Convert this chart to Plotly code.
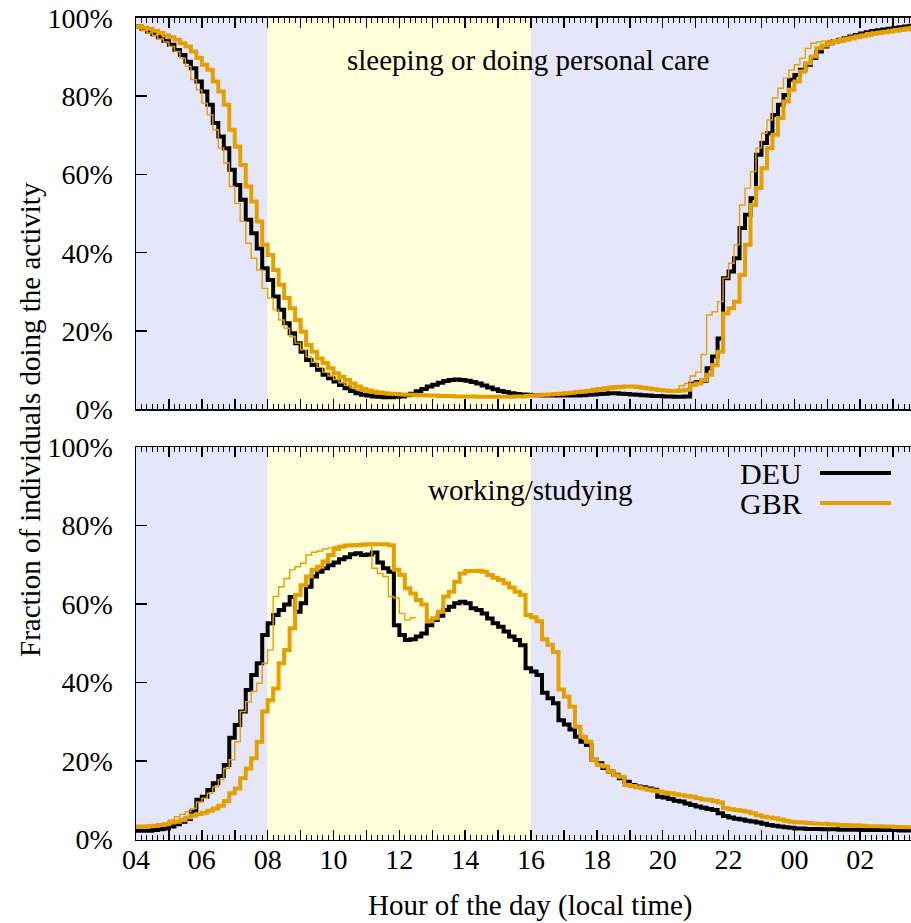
import numpy as np
import plotly.graph_objects as go

# ---------------- data (10-minute resolution, starting 04:00) ----------------
sleep_deu = [
    97.8, 97.2, 96.5, 95.8, 95.0, 94.1,
    93.1, 91.8, 90.5, 88.8, 87.1, 83.7,
    81.2, 77.8, 73.1, 69.7, 66.7, 61.2,
    57.3, 53.5, 48.4, 45.0, 41.1, 36.0,
    33.0, 28.8, 25.4, 22.0, 19.4, 16.9,
    14.7, 12.6, 11.3, 10.1, 8.8, 7.9,
    7.1, 6.2, 5.4, 4.7, 4.1, 3.7,
    3.5, 3.3, 3.2, 3.1, 3.1, 3.2,
    3.3, 3.6, 4.0, 4.6, 5.2, 5.8,
    6.3, 6.8, 7.2, 7.5, 7.6, 7.5,
    7.3, 7.0, 6.6, 6.1, 5.6, 5.1,
    4.7, 4.4, 4.1, 3.9, 3.8, 3.7,
    3.6, 3.6, 3.5, 3.5, 3.5, 3.5,
    3.5, 3.5, 3.5, 3.6, 3.7, 3.8,
    3.9, 4.0, 4.1, 4.1, 4.0, 3.9,
    3.8, 3.7, 3.6, 3.5, 3.4, 3.4,
    3.3, 3.3, 3.2, 3.2, 3.3, 6.5,
    7.0, 7.3, 10.5, 13.5, 18.1, 33.5,
    35.2, 38.6, 46.3, 49.7, 53.9, 65.0,
    68.0, 70.5, 75.2, 77.8, 80.3, 84.2,
    85.4, 86.7, 88.0, 89.7, 91.4, 92.7,
    93.5, 94.0, 94.4, 94.8, 95.2, 95.6,
    96.0, 96.3, 96.6, 96.8, 97.0, 97.2,
    97.4, 97.6, 97.8, 98.0, 98.2, 98.4,
]
sleep_gbr = [
    97.8, 97.5, 97.2, 96.7, 96.1, 95.5,
    95.0, 94.4, 93.5, 92.7, 91.4, 89.7,
    88.0, 86.7, 83.7, 81.2, 77.8, 71.4,
    67.1, 62.4, 56.9, 53.1, 48.0, 42.0,
    39.4, 35.6, 31.8, 28.4, 25.8, 22.8,
    19.8, 16.4, 14.7, 13.0, 11.8, 10.5,
    9.2, 8.3, 7.5, 6.6, 5.8, 5.2,
    4.8, 4.5, 4.3, 4.1, 4.0, 3.9,
    3.8, 3.7, 3.7, 3.6, 3.6, 3.5,
    3.5, 3.4, 3.4, 3.4, 3.3, 3.3,
    3.3, 3.3, 3.2, 3.2, 3.2, 3.2,
    3.2, 3.2, 3.2, 3.3, 3.3, 3.4,
    3.5, 3.6, 3.7, 3.8, 3.9, 4.0,
    4.1, 4.2, 4.4, 4.5, 4.7, 4.8,
    5.0, 5.2, 5.4, 5.6, 5.7, 5.8,
    5.8, 5.7, 5.5, 5.3, 5.1, 4.9,
    4.8, 4.7, 4.7, 4.8, 5.0, 6.2,
    6.6, 7.5, 8.8, 11.3, 14.7, 24.5,
    25.8, 27.5, 34.3, 42.0, 52.2, 56.5,
    61.6, 66.7, 70.1, 74.4, 78.6, 81.6,
    83.7, 86.3, 88.4, 90.1, 92.2, 92.9,
    93.5, 93.8, 94.1, 94.4, 94.7, 95.0,
    95.3, 95.6, 95.9, 96.1, 96.3, 96.5,
    96.7, 96.9, 97.1, 97.3, 97.5, 97.7,
]
sleep_gbr_thin = [
    97.4, 96.7, 96.1, 95.5, 94.6, 93.8,
    92.7, 91.4, 89.7, 87.6, 84.2, 81.6,
    78.2, 75.2, 71.4, 66.7, 62.9, 56.9,
    52.6, 48.0, 42.4, 38.6, 35.6, 30.9,
    28.4, 25.4, 22.8, 20.7, 18.6, 16.9,
    15.2, 13.4, 12.0, 10.7, 9.5, 8.5,
    7.6, 6.8, 6.1, 5.5, 5.0, 4.6,
    4.3, 4.1, 4.0, 3.9, 3.8, 3.7,
    3.7, 3.6, 3.6, 3.5, 3.5, 3.4,
    3.4, 3.4, 3.3, 3.3, 3.3, 3.3,
    3.3, 3.2, 3.2, 3.2, 3.2, 3.2,
    3.2, 3.2, 3.3, 3.3, 3.4, 3.5,
    3.6, 3.7, 3.8, 3.9, 4.0, 4.1,
    4.3, 4.5, 4.7, 4.9, 5.1, 5.3,
    5.5, 5.7, 5.9, 6.0, 6.1, 6.0,
    5.9, 5.7, 5.5, 5.3, 5.2, 5.1,
    5.0, 5.0, 5.1, 6.0, 6.6, 8.5,
    9.5, 14.0, 24.1, 24.9, 27.5, 33.5,
    37.3, 42.0, 52.2, 56.5, 60.7, 66.7,
    70.5, 73.9, 79.5, 82.0, 84.6, 86.7,
    88.0, 89.7, 92.2, 93.5, 93.8, 94.0,
    94.2, 94.4, 94.7, 95.0, 95.3, 95.6,
    95.9, 96.2, 96.4, 96.6, 96.8, 97.0,
    97.2, 97.4, 97.6, 97.8, 97.9, 98.0,
]
work_deu = [
    2.2, 2.2, 2.2, 2.4, 2.6, 2.8,
    3.3, 3.9, 4.5, 5.2, 7.1, 10.1,
    10.9, 12.6, 14.3, 16.2, 19.0, 25.9,
    29.2, 32.6, 38.1, 41.9, 44.9, 52.1,
    55.1, 57.2, 58.5, 59.9, 61.8, 58.0,
    60.2, 64.4, 67.0, 68.2, 69.1, 69.9,
    70.6, 71.4, 71.9, 72.7, 72.9, 72.5,
    72.6, 73.1, 70.6, 69.1, 68.2, 54.6,
    52.1, 50.8, 51.0, 51.7, 52.5, 54.6,
    55.9, 57.0, 58.5, 59.3, 60.2, 60.6,
    60.2, 58.9, 58.5, 57.6, 56.3, 55.1,
    54.2, 53.0, 51.7, 50.8, 49.5, 43.6,
    42.8, 41.9, 37.4, 36.0, 34.7, 30.4,
    29.3, 28.0, 26.2, 24.9, 24.1, 20.3,
    19.4, 18.2, 17.3, 16.5, 15.6, 14.7,
    13.9, 13.5, 13.3, 13.0, 12.7, 10.9,
    10.7, 10.3, 9.9, 9.7, 9.2, 8.8,
    8.4, 8.1, 7.8, 7.5, 6.7, 6.0,
    5.6, 5.3, 5.1, 4.8, 4.6, 4.3,
    4.0, 3.7, 3.5, 3.3, 3.1, 3.0,
    2.8, 2.8, 2.7, 2.7, 2.7, 2.6,
    2.6, 2.6, 2.5, 2.5, 2.5, 2.5,
    2.4, 2.4, 2.4, 2.4, 2.4, 2.4,
    2.4, 2.3, 2.3, 2.3, 2.3, 2.3,
]
work_gbr = [
    3.3, 3.3, 3.4, 3.5, 3.7, 3.9,
    4.3, 4.5, 5.0, 5.6, 6.1, 6.5,
    6.8, 7.3, 7.9, 8.6, 9.8, 11.8,
    13.0, 15.6, 18.1, 20.7, 24.9, 32.6,
    35.5, 38.5, 44.9, 48.3, 53.8, 62.3,
    64.8, 67.0, 68.7, 69.5, 70.8, 72.5,
    74.0, 74.6, 74.9, 75.0, 75.0, 75.1,
    75.2, 75.2, 75.2, 75.2, 75.0, 68.7,
    67.4, 64.0, 62.7, 61.0, 59.9, 55.6,
    56.4, 58.0, 61.9, 63.1, 65.7, 67.8,
    68.4, 68.4, 68.5, 68.2, 67.4, 66.7,
    66.1, 65.3, 64.2, 63.1, 62.3, 57.2,
    56.6, 55.6, 51.0, 49.6, 47.8, 38.2,
    36.4, 33.8, 28.7, 26.2, 24.9, 20.3,
    19.0, 18.6, 17.3, 16.4, 16.0, 13.9,
    13.6, 13.3, 13.0, 12.7, 12.4, 12.2,
    11.9, 11.8, 11.5, 11.3, 11.1, 10.9,
    10.5, 10.2, 10.1, 9.8, 9.4, 8.0,
    7.7, 7.5, 7.3, 7.1, 6.7, 6.2,
    5.8, 5.6, 5.4, 5.1, 4.8, 4.5,
    4.4, 4.3, 4.2, 4.1, 4.0, 4.0,
    3.9, 3.8, 3.7, 3.7, 3.6, 3.6,
    3.5, 3.4, 3.4, 3.4, 3.3, 3.3,
    3.2, 3.2, 3.1, 3.1, 3.0, 3.0,
]
work_gbr_thin = [
    3.0, 3.2, 3.4, 3.5, 3.9, 4.1,
    5.0, 5.8, 6.4, 7.1, 7.9, 9.5,
    10.5, 11.8, 13.4, 15.2, 18.1, 20.3,
    24.9, 32.6, 35.1, 37.7, 39.8, 44.9,
    48.3, 61.9, 64.4, 66.5, 68.7, 69.5,
    70.4, 72.5, 73.2, 73.5, 74.0, 74.3,
    74.6, 74.9, 75.1, 75.2, 75.3, 75.4,
    75.4, 69.1, 67.8, 67.0, 61.9, 61.5,
    57.6, 55.9, 56.5,
]

tick_hours = list(range(4, 29))
tick_text = ["04", "", "06", "", "08", "", "10", "", "12", "", "14", "", "16", "",
             "18", "", "20", "", "22", "", "00", "", "02", "", "04"]
y_ticks = [0, 20, 40, 60, 80, 100]
y_text = ["0%", "20%", "40%", "60%", "80%", "100%"]

panel_labels = ["sleeping or doing personal care", "working/studying"]
series_names = ["DEU", "GBR"]

# ---------------- styles ----------------
W, H = 911, 923
L = 136
PLOT_W = W - L
PX_PER_H = 32.92
X_END = 4 + PLOT_W / PX_PER_H
BLACK = "#000000"
ORANGE = "#e69f00"
NIGHT = "#e6e6fa"
DAY = "#ffffdc"
FONT = "Liberation Serif"
FS = 29


def steps(vals):
    x = 4 + np.arange(len(vals) + 1) / 6.0
    y = list(vals) + [vals[-1]]
    return x, y


def xp(px):
    return (px - L) / PLOT_W


def yp(py):
    return 1 - py / H


fig = go.Figure()

panels = [
    ("x2", "y2", sleep_deu, sleep_gbr, sleep_gbr_thin),
    ("x", "y", work_deu, work_gbr, work_gbr_thin),
]
for xa, ya, deu, gbr, thin in panels:
    for vals, col, wdt in [(deu, BLACK, 4), (gbr, ORANGE, 4), (thin, ORANGE, 1.4)]:
        x, y = steps(vals)
        fig.add_trace(go.Scatter(x=x, y=y, xaxis=xa, yaxis=ya, mode="lines",
                                 line=dict(color=col, width=wdt, shape="hv"),
                                 showlegend=False, hoverinfo="skip"))

shapes = []
for xr, yr in [("x", "y domain"), ("x2", "y2 domain")]:
    for x0, x1, c in [(4, 8, NIGHT), (8, 16, DAY), (16, 28, NIGHT)]:
        shapes.append(dict(type="rect", xref=xr, yref=yr, x0=x0, x1=x1, y0=0, y1=1,
                           fillcolor=c, line=dict(width=0), layer="below"))

# custom legend (text left of sample line), inside bottom panel
annotations = []
for i, (name, col) in enumerate(zip(series_names, [BLACK, ORANGE])):
    yy = 473 + 30 * i
    annotations.append(dict(text=name, x=xp(804), y=yp(yy), xref="paper", yref="paper",
                            xanchor="right", yanchor="middle", showarrow=False,
                            font=dict(family=FONT, size=FS + 1, color="black")))
    shapes.append(dict(type="line", xref="paper", yref="paper", x0=xp(820), x1=xp(891),
                       y0=yp(yy), y1=yp(yy), line=dict(color=col, width=4)))

annotations.append(dict(text=panel_labels[0], x=xp(528), y=yp(60), xref="paper", yref="paper",
                        xanchor="center", yanchor="middle", showarrow=False,
                        font=dict(family=FONT, size=FS, color="black")))
annotations.append(dict(text=panel_labels[1], x=xp(530), y=yp(490), xref="paper", yref="paper",
                        xanchor="center", yanchor="middle", showarrow=False,
                        font=dict(family=FONT, size=FS, color="black")))
annotations.append(dict(text="Hour of the day (local time)", x=xp(530), y=yp(905),
                        xref="paper", yref="paper", xanchor="center", yanchor="middle",
                        showarrow=False, font=dict(family=FONT, size=FS, color="black")))
annotations.append(dict(text="Fraction of individuals doing the activity", x=xp(30), y=yp(420),
                        xref="paper", yref="paper", xanchor="center", yanchor="middle",
                        textangle=-90, showarrow=False,
                        font=dict(family=FONT, size=FS, color="black")))

xaxis_common = dict(range=[4, X_END], tickmode="array", tickvals=tick_hours,
                    ticks="inside", ticklen=10, tickwidth=1.5, tickcolor="black",
                    showline=True, linecolor="black", linewidth=1.5, mirror="ticks",
                    showgrid=False, zeroline=False, fixedrange=True, automargin=False,
                    minor=dict(tickmode="linear", tick0=4, dtick=1 / 6, ticks="inside",
                               ticklen=5, tickwidth=1, tickcolor="black", showgrid=False),
                    tickfont=dict(family=FONT, size=FS - 1, color="black"))
yaxis_common = dict(range=[0, 100], tickmode="array", tickvals=y_ticks, ticktext=y_text,
                    ticks="inside", ticklen=11, tickwidth=1.5, tickcolor="black",
                    showline=True, linecolor="black", linewidth=1.5, mirror=False,
                    showgrid=False, zeroline=False, fixedrange=True, automargin=False,
                    ticklabelstandoff=16,
                    tickfont=dict(family=FONT, size=FS - 1, color="black"))

fig.update_layout(
    width=W, height=H,
    margin=dict(l=L, r=0, t=0, b=0, pad=0, autoexpand=False),
    paper_bgcolor="white", plot_bgcolor="white",
    xaxis=dict(xaxis_common, anchor="y", ticktext=tick_text, ticklabelstandoff=-6),
    xaxis2=dict(xaxis_common, anchor="y2", matches="x", showticklabels=False),
    yaxis=dict(yaxis_common, anchor="x", domain=[yp(839.5), yp(447)]),
    yaxis2=dict(yaxis_common, anchor="x2", domain=[yp(409.3), yp(17.8)]),
    shapes=shapes, annotations=annotations,
    showlegend=False,
)

fig.write_html("out.html",
               config={"displayModeBar": False, "staticPlot": True},
               post_script="document.body.style.margin='0px';"
                           "document.body.style.overflow='hidden';")
